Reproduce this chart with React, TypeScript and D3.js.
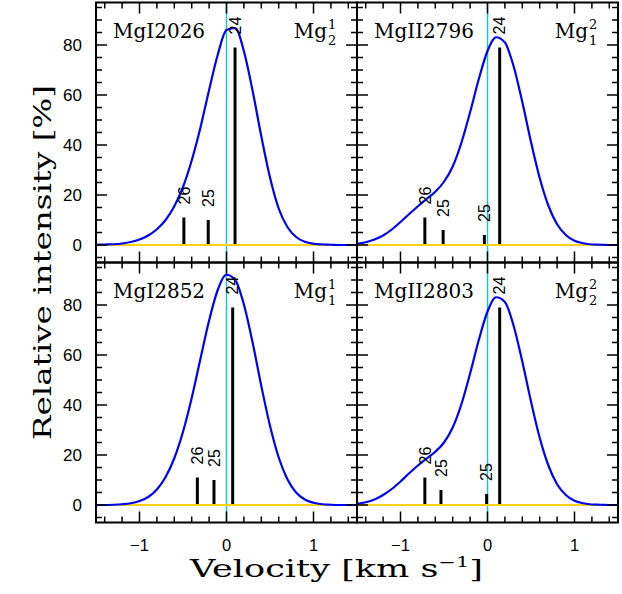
import React from "react";
import * as d3 from "d3";

// velocity grid of the model profiles [km/s]
const velocityGrid = [
  -1.5, -1.4, -1.3, -1.2, -1.1, -1.0, -0.9, -0.8, -0.7, -0.6, -0.5, -0.4, -0.3, -0.2, -0.1, 0.0,
  0.1, 0.2, 0.3, 0.4, 0.5, 0.6, 0.7, 0.8, 0.9, 1.0, 1.1, 1.2, 1.3, 1.4, 1.5,
];

// blended profiles [%]
const profileMgI2026 = [
  0.1, 0.2, 0.3, 0.6, 1.2, 2.2, 3.8, 6.3, 10.0, 15.5, 23.2, 33.8, 46.9, 62.0, 76.2, 86.0,
  86.8, 77.5, 61.7, 43.5, 27.0, 14.6, 7.2, 3.2, 1.3, 0.5, 0.2, 0.1, 0.0, 0.0, 0.0,
];
const profileMgII2796 = [
  0.5, 1.1, 2.2, 3.8, 6.2, 9.2, 12.4, 15.5, 18.4, 21.3, 25.3, 31.4, 40.9, 53.1, 66.4, 77.6,
  83.1, 81.0, 71.5, 57.2, 41.2, 26.8, 15.7, 8.3, 4.0, 1.7, 0.7, 0.2, 0.1, 0.0, 0.0,
];
const profileMgI2852 = [
  0.0, 0.0, 0.1, 0.3, 0.7, 1.6, 3.2, 6.2, 11.2, 18.7, 29.3, 42.8, 58.4, 73.8, 86.1, 92.1,
  90.0, 80.2, 65.0, 47.6, 31.7, 19.0, 10.3, 5.0, 2.2, 0.9, 0.3, 0.1, 0.0, 0.0, 0.0,
];
const profileMgII2803 = [
  0.5, 1.1, 2.2, 4.0, 6.4, 9.4, 12.7, 15.8, 18.6, 21.3, 25.0, 31.0, 40.3, 52.6, 66.0, 77.4,
  83.1, 81.2, 71.7, 57.4, 41.4, 26.9, 15.8, 8.3, 4.0, 1.7, 0.7, 0.2, 0.1, 0.0, 0.0,
];

// isotope components (sticks)
const isoLabels2026 = ["26", "25", "24"];
const isoVelocity2026 = [-0.49, -0.21, 0.098];
const isoIntensity2026 = [11, 10, 79];

const isoLabels2796 = ["26", "25", "25", "24"];
const isoVelocity2796 = [-0.72, -0.51, -0.036, 0.14];
const isoIntensity2796 = [11, 6, 4, 79];

const isoLabels2852 = ["26", "25", "24"];
const isoVelocity2852 = [-0.335, -0.144, 0.071];
const isoIntensity2852 = [11, 10, 79];

const isoLabels2803 = ["26", "25", "25", "24"];
const isoVelocity2803 = [-0.72, -0.535, -0.01, 0.14];
const isoIntensity2803 = [11, 6, 4.4, 79];

const panelNames = ["MgI2026", "MgII2796", "MgI2852", "MgII2803"];
const multipletUpper = ["1", "2", "1", "2"];
const multipletLower = ["2", "1", "1", "2"];

const xTickValues = [-1, 0, 1];
const xTickLabels = ["\u22121", "0", "1"];
const yTickValues = [0, 20, 40, 60, 80];
const yTickLabels = ["0", "20", "40", "60", "80"];

const W = 622;
const H = 594;
const LEFT = 96;
const TOP = 2.5;
const PW = 261;
const PH = 260;
const MAJOR = 11;
const MINOR = 6;

const SANS = "'Liberation Sans', Arial, sans-serif";
const SERIF = "'DejaVu Serif', serif";

type PanelData = {
  name: string;
  upper: string;
  lower: string;
  profile: number[];
  labels: string[];
  vel: number[];
  inten: number[];
};

const panels: PanelData[] = [
  { name: panelNames[0], upper: multipletUpper[0], lower: multipletLower[0], profile: profileMgI2026, labels: isoLabels2026, vel: isoVelocity2026, inten: isoIntensity2026 },
  { name: panelNames[1], upper: multipletUpper[1], lower: multipletLower[1], profile: profileMgII2796, labels: isoLabels2796, vel: isoVelocity2796, inten: isoIntensity2796 },
  { name: panelNames[2], upper: multipletUpper[2], lower: multipletLower[2], profile: profileMgI2852, labels: isoLabels2852, vel: isoVelocity2852, inten: isoIntensity2852 },
  { name: panelNames[3], upper: multipletUpper[3], lower: multipletLower[3], profile: profileMgII2803, labels: isoLabels2803, vel: isoVelocity2803, inten: isoIntensity2803 },
];

function Panel({ p, col, row }: { p: PanelData; col: number; row: number }) {
  const x0 = LEFT + col * PW;
  const y0 = TOP + row * PH;
  const x = d3.scaleLinear().domain([-1.5, 1.5]).range([x0, x0 + PW]);
  const y = d3.scaleLinear().domain([-7, 97]).range([y0 + PH, y0]);

  const line = d3
    .line<number>()
    .x((_, i) => x(velocityGrid[i]))
    .y((d) => y(d))
    .curve(d3.curveMonotoneX);

  // tick marks on all four sides, pointing inwards
  let ticks = "";
  x.ticks(15).forEach((t) => {
    const L = xTickValues.some((m) => Math.abs(m - t) < 1e-6) ? MAJOR : MINOR;
    ticks += `M${x(t)},${y0 + PH}v${-L}M${x(t)},${y0}v${L}`;
  });
  y.ticks(20).forEach((t) => {
    const L = yTickValues.includes(t) ? MAJOR : MINOR;
    ticks += `M${x0},${y(t)}h${L}M${x0 + PW},${y(t)}h${-L}`;
  });

  return (
    <g>
      <line x1={x(0)} x2={x(0)} y1={y0} y2={y0 + PH} stroke="#22C4C4" strokeWidth={1.5} />
      {p.vel.map((v, i) => (
        <line key={"s" + i} x1={x(v)} x2={x(v)} y1={y(0)} y2={y(p.inten[i])} stroke="#000" strokeWidth={3} />
      ))}
      <line x1={x0} x2={x0 + PW} y1={y(0)} y2={y(0)} stroke="#FFD21A" strokeWidth={2} />
      <path d={line(p.profile) || ""} fill="none" stroke="#0000F0" strokeWidth={2.2} />
      {p.vel.map((v, i) => (
        <text
          key={"l" + i}
          transform={`translate(${x(v)},${y(p.inten[i]) - 13}) rotate(-90)`}
          dy="0.36em"
          fontFamily={SANS}
          fontSize={16}
        >
          {p.labels[i]}
        </text>
      ))}
      <rect x={x0} y={y0} width={PW} height={PH} fill="none" stroke="#000" strokeWidth={2} />
      <path d={ticks} stroke="#000" strokeWidth={1.5} fill="none" />

      <text x={x0 + 17} y={y0 + 35} fontFamily={SERIF} fontSize={20}>
        {p.name}
      </text>
      <text x={x0 + PW - 30} y={y0 + 35} fontFamily={SERIF} fontSize={20} textAnchor="end">
        Mg
      </text>
      <text x={x0 + PW - 29} y={y0 + 26} fontFamily={SERIF} fontSize={13}>
        {p.upper}
      </text>
      <text x={x0 + PW - 29} y={y0 + 42.5} fontFamily={SERIF} fontSize={13}>
        {p.lower}
      </text>

      {col === 0 &&
        yTickValues.map((t, i) => (
          <text key={"y" + t} x={x0 - 14} y={y(t)} dy="0.35em" textAnchor="end" fontFamily={SANS} fontSize={17}>
            {yTickLabels[i]}
          </text>
        ))}
      {row === 1 &&
        xTickValues.map((t, i) => (
          <text key={"x" + t} x={x(t)} y={551} textAnchor="middle" fontFamily={SANS} fontSize={16.5}>
            {xTickLabels[i]}
          </text>
        ))}
    </g>
  );
}

export default function App() {
  return (
    <svg width={W} height={H} style={{ position: "absolute", left: 0, top: 0, background: "#fff" }}>
      {panels.map((p, i) => (
        <Panel key={p.name} p={p} col={i % 2} row={Math.floor(i / 2)} />
      ))}
      <text
        transform="translate(51,262.5) rotate(-90)"
        textAnchor="middle"
        fontFamily={SERIF}
        fontSize={24}
        textLength={355}
        lengthAdjust="spacingAndGlyphs"
      >
        Relative intensity [%]
      </text>
      <text x={190} y={577} fontFamily={SERIF} fontSize={23.5} textLength={293} lengthAdjust="spacingAndGlyphs">
        Velocity [km s<tspan fontSize={14} dy={-10}>{"\u22121"}</tspan>
        <tspan dy={10}>]</tspan>
      </text>
    </svg>
  );
}
